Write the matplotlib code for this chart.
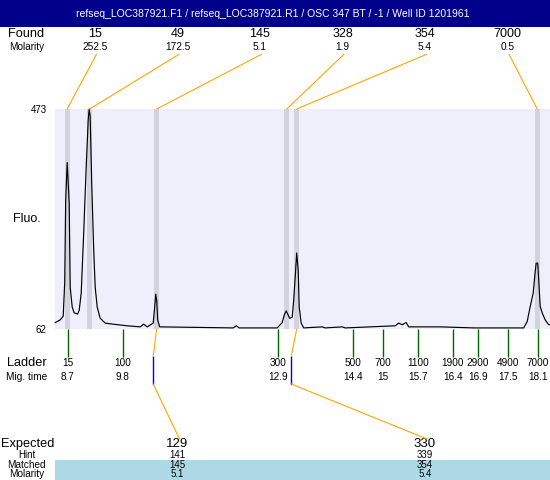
import matplotlib
matplotlib.use('Agg')
import matplotlib.pyplot as plt
from matplotlib.patches import ConnectionPatch, Rectangle
from matplotlib.transforms import blended_transform_factory

plt.rcParams['font.family'] = ['Liberation Sans', 'DejaVu Sans']

title = "refseq_LOC387921.F1 / refseq_LOC387921.R1 / OSC 347 BT / -1 / Well ID 1201961"

# Found peaks
found_size = [15, 49, 145, 328, 354, 7000]
found_molarity = ['252.5', '172.5', '5.1', '1.9', '5.4', '0.5']
found_time = [8.69, 9.14, 10.48, 13.08, 13.28, 18.09]

# Ladder
ladder_size = [15, 100, 300, 500, 700, 1100, 1900, 2900, 4900, 7000]
ladder_time = ['8.7', '9.8', '12.9', '14.4', '15', '15.7', '16.4', '16.9', '17.5', '18.1']

# Expected products
expected_size = [129, 330]
expected_hint = [141, 339]
expected_matched = [145, 354]
expected_molarity = ['5.1', '5.4']
expected_time = [10.41, 13.17]
expected_found_idx = [2, 4]

# Electropherogram trace (migration time, fluorescence)
trace_time = [8.45, 8.55, 8.61, 8.64, 8.66, 8.69, 8.73, 8.75, 8.79, 8.83,
              8.90, 8.93, 8.97, 9.02, 9.07, 9.11, 9.13, 9.15, 9.18, 9.22,
              9.25, 9.29, 9.35, 9.45, 9.61, 9.89, 10.15, 10.22, 10.29, 10.41,
              10.44, 10.46, 10.48, 10.50, 10.54, 12.01, 12.07, 12.13, 12.69, 12.89,
              12.99, 13.03, 13.07, 13.14, 13.19, 13.22, 13.25, 13.28, 13.31, 13.33,
              13.37, 13.42, 13.79, 13.85, 14.19, 14.25, 15.25, 15.32, 15.39, 15.47,
              15.52, 15.82, 16.15, 16.82, 17.82, 17.89, 17.95, 18.01, 18.05, 18.07,
              18.10, 18.12, 18.15, 18.19, 18.25, 18.32, 18.35]
trace_fluo = [74, 79, 86, 148, 303, 373, 297, 140, 103, 92,
              90, 97, 129, 241, 365, 452, 473, 458, 335, 210,
              140, 103, 82, 73, 71, 68, 66, 71, 66, 73,
              103, 127, 116, 79, 66, 64, 68, 64, 64, 64,
              74, 88, 96, 82, 84, 116, 159, 204, 172, 103,
              73, 64, 66, 64, 66, 64, 68, 73, 70, 74,
              66, 66, 66, 64, 64, 76, 104, 129, 169, 185,
              185, 154, 104, 92, 79, 70, 70]

fluo_range = [62, 473]
time_range = [8.446, 18.346]

W, H = 550, 480
fig = plt.figure(figsize=(W / 100, H / 100), dpi=100)

# overlay axes in pixel coordinates for the layout
ov = fig.add_axes([0, 0, 1, 1])
ov.set_xlim(0, W)
ov.set_ylim(H, 0)
ov.axis('off')
ov.patch.set_visible(False)

# main plot axes
px_l, px_r, px_t, px_b = 55, 550, 109, 329
ax = fig.add_axes([px_l / W, 1 - px_b / H, (px_r - px_l) / W, (px_b - px_t) / H])
ax.set_facecolor('#efeffc')
ax.set_xlim(*time_range)
ax.set_ylim(*fluo_range)
for s in ax.spines.values():
    s.set_visible(False)
ax.set_xticks([])
ax.set_yticks(fluo_range)
ax.set_yticklabels([str(v) for v in fluo_range], fontsize=7)
ax.tick_params(axis='y', length=0, pad=6)
ax.set_ylabel('Fluo.', rotation=0, fontsize=9, ha='center', va='center')
ax.yaxis.set_label_coords((26.7 - px_l) / (px_r - px_l), 0.5)

for t in found_time:
    ax.axvspan(t - 0.05, t + 0.05, color='#d3d3df', lw=0)
ax.plot(trace_time, trace_fluo, color='black', lw=0.85, clip_on=False, zorder=3)

bt = blended_transform_factory(ax.transData, ov.transData)

# title bar
ov.add_patch(Rectangle((0, 0), W, 26.7, facecolor='#00008b', edgecolor='none'))
ov.text(273, 13.8, title, color='white', ha='center', va='center', fontsize=7.45)

# Found / Molarity rows
col_x = [95 + 82.5 * i for i in range(6)]
ov.text(26.3, 34.3, 'Found', ha='center', va='center', fontsize=9.2)
ov.text(26.8, 46.7, 'Molarity', ha='center', va='center', fontsize=7.2)
for i, (s, m) in enumerate(zip(found_size, found_molarity)):
    ov.text(col_x[i], 34.3, str(s), ha='center', va='center', fontsize=9)
    ov.text(col_x[i], 46.7, m, ha='center', va='center', fontsize=7.3)
    con = ConnectionPatch(xyA=(col_x[i] + 1.5, 54.3), coordsA=ov.transData,
                          xyB=(found_time[i], fluo_range[1]), coordsB=ax.transData,
                          color='#ffa500', lw=0.8)
    fig.add_artist(con)

# Ladder rows
ov.vlines([float(t) for t in ladder_time], px_b, 357, transform=bt, color='#006400', lw=1.0)
ov.text(27, 363.3, 'Ladder', ha='center', va='center', fontsize=9.2)
ov.text(26.2, 376.7, 'Mig. time', ha='center', va='center', fontsize=7.3)
for s, t in zip(ladder_size, ladder_time):
    ov.text(float(t), 363.3, str(s), transform=bt, ha='center', va='center', fontsize=7.2)
    ov.text(float(t), 376.7, t, transform=bt, ha='center', va='center', fontsize=7.2)

# Expected block
ov.add_patch(Rectangle((px_l, 460), W - px_l, 20, facecolor='#add8e6', edgecolor='none'))
ov.text(27.5, 444, 'Expected', ha='center', va='center', fontsize=9.2)
ov.text(26.7, 455, 'Hint', ha='center', va='center', fontsize=7)
ov.text(26.7, 465.3, 'Matched', ha='center', va='center', fontsize=7.2)
ov.text(27, 474.3, 'Molarity', ha='center', va='center', fontsize=7.2)
exp_col_x = [col_x[1], col_x[4]]
for k in range(len(expected_size)):
    i = expected_found_idx[k]
    ov.plot([found_time[i], expected_time[k]], [px_b, 356.5], transform=bt,
            color='#ffa500', lw=0.8)
    ov.plot([expected_time[k], expected_time[k]], [356.5, 384], transform=bt,
            color='#0000ff', lw=1.0)
    con = ConnectionPatch(xyA=(expected_time[k], 384), coordsA=bt,
                          xyB=(exp_col_x[k] + 2, 439), coordsB=ov.transData,
                          color='#ffa500', lw=0.8)
    fig.add_artist(con)
    ov.text(exp_col_x[k], 444, str(expected_size[k]), ha='center', va='center', fontsize=9.5)
    ov.text(exp_col_x[k], 455, str(expected_hint[k]), ha='center', va='center', fontsize=7)
    ov.text(exp_col_x[k], 465.3, str(expected_matched[k]), ha='center', va='center', fontsize=7)
    ov.text(exp_col_x[k], 474.3, expected_molarity[k], ha='center', va='center', fontsize=7)

fig.savefig('out.png', dpi=100)
